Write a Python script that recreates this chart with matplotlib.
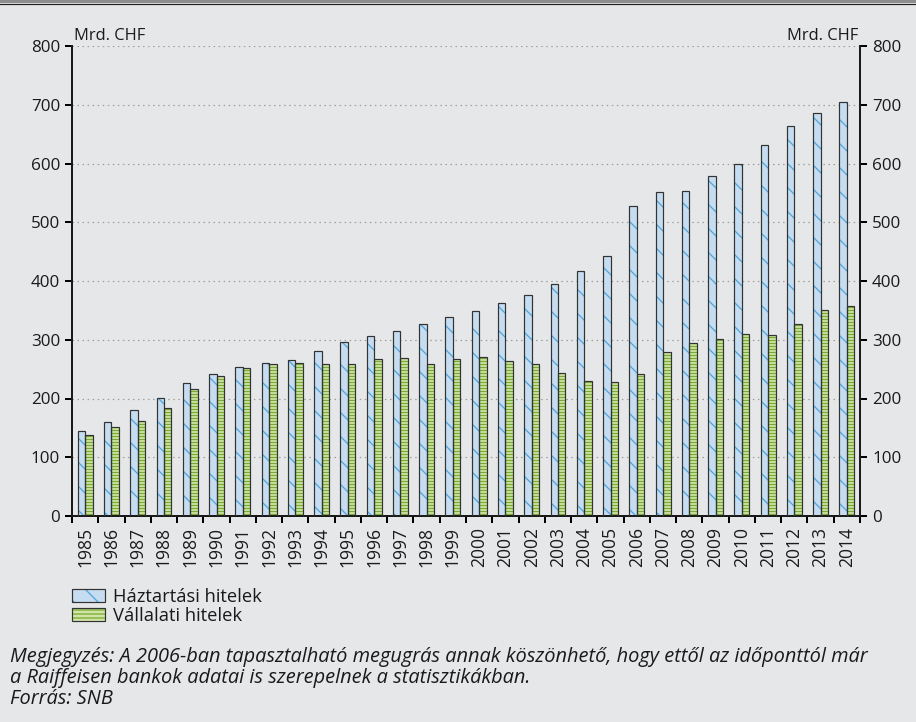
import numpy as np
import matplotlib
matplotlib.use('Agg')
import matplotlib.pyplot as plt
from matplotlib.patches import Patch, Rectangle
from matplotlib.legend_handler import HandlerTuple

# data (Mrd. CHF)
years = [str(y) for y in range(1985, 2015)]
haztartasi = [145, 160, 181, 201, 227, 241, 254, 260, 266, 281,
              296, 307, 315, 326, 338, 349, 363, 376, 395, 417,
              442, 528, 551, 553, 578, 599, 631, 664, 686, 704]
vallalati = [138, 151, 162, 183, 216, 239, 252, 258, 260, 258,
             258, 267, 269, 258, 267, 271, 263, 258, 243, 230,
             228, 241, 279, 295, 302, 310, 308, 327, 350, 358]
yticks = [0, 100, 200, 300, 400, 500, 600, 700, 800]

label_h = 'Háztartási hitelek'
label_v = 'Vállalati hitelek'
unit = 'Mrd. CHF'
note1 = 'Megjegyzés: A 2006-ban tapasztalható megugrás annak köszönhető, hogy ettől az időponttól már'
note2 = 'a Raiffeisen bankok adatai is szerepelnek a statisztikákban.'
source = 'Forrás: SNB'

bg = '#E6E7E8'
blue_fill, blue_hatch = '#C6DDF1', '#4FA6DE'
green_fill, green_hatch = '#D2E5A6', '#76AB35'
outline = '#333333'
txt = '#1a1a1a'

plt.rcParams['font.family'] = ['Open Sans', 'DejaVu Sans']
plt.rcParams['hatch.linewidth'] = 1.3
plt.rcParams['text.color'] = txt

dpi = 72
W, H = 916, 722
fig = plt.figure(figsize=(W / dpi, H / dpi), dpi=dpi, facecolor=bg)
ax = fig.add_axes([72 / W, 1 - 516 / H, (860 - 72) / W, (516 - 46) / H])
ax.set_facecolor(bg)

x = np.arange(len(years))
w = 0.285
xb = x - 0.14
xg = x + 0.145

# fill + hatch first, then outline on top
ax.bar(xb, haztartasi, w, color=blue_fill, edgecolor=blue_hatch, hatch='\\', lw=0, zorder=2)
ax.bar(xg, vallalati, w, color=green_fill, edgecolor=green_hatch, hatch='----', lw=0, zorder=2)
ax.bar(xb, haztartasi, w, fill=False, edgecolor=outline, lw=1.2, zorder=3)
ax.bar(xg, vallalati, w, fill=False, edgecolor=outline, lw=1.2, zorder=3)

ax.set_xlim(-0.5, len(years) - 0.5)
ax.set_ylim(0, 800)
ax.set_yticks(yticks)
ax.yaxis.grid(True, color='#9A9A9A', ls=(0, (1.2, 3)), lw=1.2, zorder=1)

ax.set_xticks(np.arange(len(years) + 1) - 0.5)
ax.set_xticklabels([])
ax.set_xticks(x, minor=True)
ax.set_xticklabels(years, minor=True, rotation=90, fontsize=17.5, color=txt)
ax.tick_params(axis='x', which='major', length=7, width=2, direction='out')
ax.tick_params(axis='x', which='minor', length=0, pad=11)
ax.tick_params(axis='y', left=True, right=True, labelleft=True, labelright=True,
               length=7, width=2, direction='out', labelsize=17, pad=5,
               labelcolor=txt)

for s in ['left', 'right', 'bottom']:
    ax.spines[s].set_linewidth(2)
    ax.spines[s].set_color(txt)
ax.spines['top'].set_visible(False)

ax.text(0.002, 1.004, unit, transform=ax.transAxes, fontsize=16.5, ha='left', va='bottom')
ax.text(0.998, 1.004, unit, transform=ax.transAxes, fontsize=16.5, ha='right', va='bottom')

# legend with separate hatch colour: overlay two patches per entry
h1 = (Patch(facecolor=blue_fill, edgecolor=blue_hatch, hatch='\\', lw=0),
      Patch(fill=False, edgecolor=outline, lw=1.2))
h2 = (Patch(facecolor=green_fill, edgecolor=green_hatch, hatch='---', lw=0),
      Patch(fill=False, edgecolor=outline, lw=1.2))
fig.legend([h1, h2], [label_h, label_v], handler_map={tuple: HandlerTuple(ndivide=1)},
           loc='upper left', bbox_to_anchor=(72 / W, 1 - 588 / H), frameon=False,
           fontsize=18.4, handlelength=1.8, handleheight=0.65, handletextpad=0.45,
           labelspacing=0.05, borderpad=0, borderaxespad=0)

fig.text(10 / W, 1 - 657 / H, note1, fontsize=20, style='italic', va='center', ha='left')
fig.text(10 / W, 1 - 678 / H, note2, fontsize=20, style='italic', va='center', ha='left')
fig.text(10 / W, 1 - 699 / H, source, fontsize=20, style='italic', va='center', ha='left')

# frame line at the top
fig.add_artist(Rectangle((0, 1 - 3 / H), 1, 3 / H, transform=fig.transFigure,
                         facecolor='#8E8E8E', edgecolor='none'))
fig.add_artist(plt.Line2D([0, 1], [1 - 3.5 / H, 1 - 3.5 / H], transform=fig.transFigure,
                          color='#222222', lw=1.2))

fig.savefig('out.png', dpi=dpi, facecolor=bg)
